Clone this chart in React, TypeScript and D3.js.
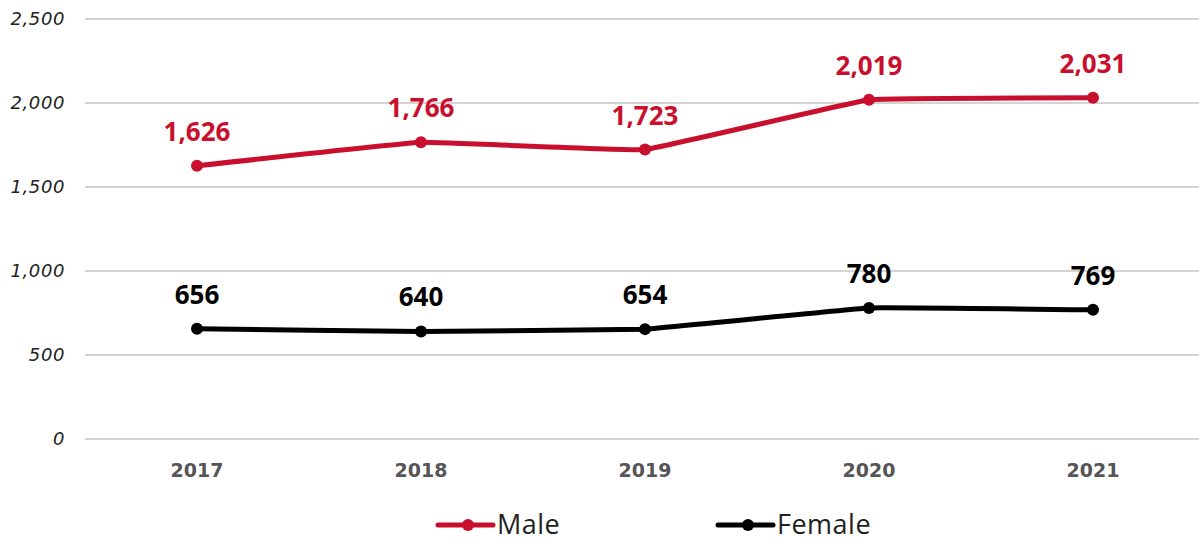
import { useMemo } from 'react';
import * as d3 from 'd3';

const years = ['2017', '2018', '2019', '2020', '2021'];
const male = [1626, 1766, 1723, 2019, 2031];
const female = [656, 640, 654, 780, 769];
const yTicks = [0, 500, 1000, 1500, 2000, 2500];

const W = 1199;
const H = 541;
const RED = '#c8102e';
const SANS = '"Open Sans", "Noto Sans", sans-serif';
const WIDE = '"DejaVu Sans", sans-serif';

export default function App() {
  const { x, y, malePath, femalePath } = useMemo(() => {
    const x = d3.scaleBand<string>().domain(years).range([85, 1205]);
    const y = d3.scaleLinear().domain([0, 2500]).range([439, 19]);
    const line = d3
      .line<number>()
      .x((_, i) => (x(years[i]) ?? 0) + x.bandwidth() / 2)
      .y((d) => y(d))
      .curve(d3.curveCardinal.tension(0.8));
    return { x, y, malePath: line(male) ?? '', femalePath: line(female) ?? '' };
  }, []);

  const cx = (i: number) => (x(years[i]) ?? 0) + x.bandwidth() / 2;
  const fmt = d3.format(',');

  const series = [
    { name: 'Male', values: male, color: RED, path: malePath },
    { name: 'Female', values: female, color: '#000', path: femalePath },
  ];

  return (
    <svg
      width={W}
      height={H}
      style={{ position: 'fixed', left: 0, top: 0, display: 'block', background: '#fff' }}
    >
      {yTicks.map((t) => (
        <g key={t}>
          <line x1={85} x2={1199} y1={y(t)} y2={y(t)} stroke="#d4d4d4" strokeWidth={2} />
          <text
            x={65}
            y={y(t)}
            dy="0.35em"
            textAnchor="end"
            fontFamily={WIDE}
            fontStyle="italic"
            fontWeight={300}
            fontSize={18}
            letterSpacing={0.6}
            fill="#222"
          >
            {fmt(t)}
          </text>
        </g>
      ))}
      {years.map((yr, i) => (
        <text
          key={yr}
          x={cx(i)}
          y={477}
          textAnchor="middle"
          fontFamily={WIDE}
          fontWeight={700}
          fontSize={19}
          fill="#555"
        >
          {yr}
        </text>
      ))}
      {series.map((s) => (
        <g key={s.name}>
          <path d={s.path} fill="none" stroke={s.color} strokeWidth={5} strokeLinecap="round" />
          {s.values.map((v, i) => (
            <g key={i}>
              <circle cx={cx(i)} cy={y(v)} r={6} fill={s.color} />
              <text
                x={cx(i)}
                y={y(v) - 25}
                textAnchor="middle"
                fontFamily={SANS}
                fontWeight={700}
                fontSize={26}
                fill={s.color}
              >
                {fmt(v)}
              </text>
            </g>
          ))}
        </g>
      ))}
      {series.map((s, k) => {
        const lx = 438 + k * 280;
        return (
          <g key={s.name}>
            <line x1={lx} x2={lx + 55} y1={525} y2={525} stroke={s.color} strokeWidth={5} strokeLinecap="round" />
            <circle cx={lx + 30} cy={525} r={6} fill={s.color} />
            <text
              x={lx + 59}
              y={525}
              dy="0.35em"
              fontFamily={SANS}
              fontSize={27}
              letterSpacing={0.5}
              fill="#222"
            >
              {s.name}
            </text>
          </g>
        );
      })}
    </svg>
  );
}
